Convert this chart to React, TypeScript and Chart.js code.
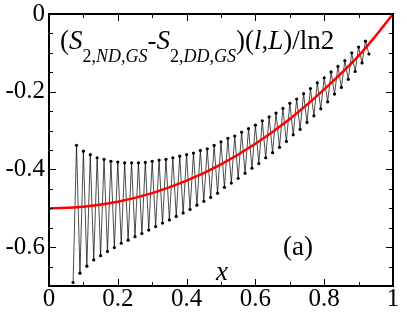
import React, { useEffect, useRef } from "react";
import { Chart, registerables } from "chart.js";

Chart.register(...registerables);

// chain length L; sites l = 7..93, x = l / L
const chainLength = 100;
const firstOddSite = 7;
const oddSiteValues = [
  -0.691, -0.667, -0.649, -0.633, -0.622, -0.611, -0.601, -0.59, -0.582, -0.573,
  -0.565, -0.556, -0.547, -0.538, -0.53, -0.521, -0.512, -0.503, -0.492, -0.482,
  -0.472, -0.461, -0.446, -0.435, -0.423, -0.41, -0.397, -0.385, -0.37, -0.357,
  -0.343, -0.328, -0.311, -0.297, -0.279, -0.262, -0.244, -0.226, -0.206, -0.189,
  -0.168, -0.148, -0.126, -0.103,
];
const firstEvenSite = 8;
const evenSiteValues = [
  -0.338, -0.353, -0.362, -0.37, -0.374, -0.379, -0.381, -0.383, -0.383,
  -0.383, -0.382, -0.379, -0.376, -0.374, -0.37, -0.366, -0.362, -0.358, -0.351,
  -0.347, -0.338, -0.329, -0.32, -0.314, -0.304, -0.295, -0.286, -0.275, -0.265,
  -0.255, -0.243, -0.23, -0.219, -0.205, -0.192, -0.177, -0.164, -0.149, -0.135, -0.12,
  -0.1, -0.085, -0.07,
];

// red reference curve
const curveX = [0, 0.1, 0.2, 0.3, 0.4, 0.5, 0.6, 0.7, 0.8, 0.9, 0.95, 1];
const curveY = [-0.5, -0.496, -0.483, -0.461, -0.429, -0.387, -0.334, -0.27, -0.194, -0.108, -0.056, 0];

const xTickValues = [0, 0.2, 0.4, 0.6, 0.8, 1];
const xTickLabels = ["0", "0.2", "0.4", "0.6", "0.8", "1"];
const xMinorTicks = [0.1, 0.3, 0.5, 0.7, 0.9];
const yTickValues = [0, -0.2, -0.4, -0.6];
const yTickLabels = ["0", "-0.2", "-0.4", "-0.6"];
const yMinorTicks = [-0.05, -0.1, -0.15, -0.25, -0.3, -0.35, -0.45, -0.5, -0.55, -0.65];

const SERIF = "'Liberation Serif', 'Times New Roman', serif";

const labelParts = [
  { t: "(", sub: false, it: false },
  { t: "S", sub: false, it: true },
  { t: "2,", sub: true, it: false },
  { t: "ND,GS", sub: true, it: true },
  { t: "-", sub: false, it: false },
  { t: "S", sub: false, it: true },
  { t: "2,", sub: true, it: false },
  { t: "DD,GS", sub: true, it: true },
  { t: ")(", sub: false, it: false },
  { t: "l", sub: false, it: true },
  { t: ",", sub: false, it: false },
  { t: "L", sub: false, it: true },
  { t: ")/ln2", sub: false, it: false },
];
const panelLabel = "(a)";
const axisLabel = "x";

function buildZigzag() {
  const pts: { x: number; y: number }[] = [];
  oddSiteValues.forEach((v, i) => pts.push({ x: (firstOddSite + 2 * i) / chainLength, y: v }));
  evenSiteValues.forEach((v, i) => pts.push({ x: (firstEvenSite + 2 * i) / chainLength, y: v }));
  pts.sort((a, b) => a.x - b.x);
  return pts;
}

const decorPlugin = {
  id: "decor",
  afterDraw(chart: any) {
    const { ctx, chartArea: a, scales } = chart;
    const xs = scales.x;
    const ys = scales.y;
    ctx.save();
    ctx.strokeStyle = "#000";
    ctx.lineWidth = 1;
    ctx.beginPath();
    const xTick = (v: number, len: number) => {
      const p = Math.round(xs.getPixelForValue(v)) + 0.5;
      ctx.moveTo(p, a.bottom);
      ctx.lineTo(p, a.bottom - len);
      ctx.moveTo(p, a.top);
      ctx.lineTo(p, a.top + len);
    };
    const yTick = (v: number, len: number) => {
      const p = Math.round(ys.getPixelForValue(v)) + 0.5;
      ctx.moveTo(a.left, p);
      ctx.lineTo(a.left + len, p);
      ctx.moveTo(a.right, p);
      ctx.lineTo(a.right - len, p);
    };
    xTickValues.forEach((v) => xTick(v, 7));
    xMinorTicks.forEach((v) => xTick(v, 4));
    yTickValues.forEach((v) => yTick(v, 7));
    yMinorTicks.forEach((v) => yTick(v, 4));
    ctx.stroke();
    ctx.lineWidth = 2;
    ctx.strokeRect(a.left, a.top, a.right - a.left, a.bottom - a.top);

    // formula label
    ctx.fillStyle = "#000";
    ctx.textBaseline = "alphabetic";
    ctx.textAlign = "left";
    let x = a.left + 11;
    const base = a.top + 35;
    labelParts.forEach((p) => {
      const size = p.sub ? 18 : 27;
      ctx.font = `${p.it ? "italic " : ""}${size}px ${SERIF}`;
      ctx.fillText(p.t, x, p.sub ? base + 13 : base);
      x += ctx.measureText(p.t).width;
    });

    ctx.font = `27px ${SERIF}`;
    ctx.fillText(panelLabel, a.left + 234, a.top + 241);

    ctx.font = `italic 27px ${SERIF}`;
    ctx.textAlign = "center";
    ctx.fillText(axisLabel, xs.getPixelForValue(0.5) + 1, a.bottom - 6);
    ctx.restore();
  },
};

export default function App() {
  const canvasRef = useRef<HTMLCanvasElement | null>(null);

  useEffect(() => {
    if (!canvasRef.current) return;
    const chart = new Chart(canvasRef.current, {
      type: "line",
      data: {
        datasets: [
          {
            data: curveX.map((x, i) => ({ x, y: curveY[i] })),
            borderColor: "#ff0000",
            borderWidth: 2.5,
            pointRadius: 0,
            cubicInterpolationMode: "monotone",
            fill: false,
          },
          {
            data: buildZigzag(),
            borderColor: "rgba(0,0,0,0.7)",
            borderWidth: 1,
            pointRadius: 1.6,
            pointBackgroundColor: "#000",
            pointBorderWidth: 0,
            tension: 0,
            fill: false,
          },
        ],
      },
      options: {
        animation: false,
        responsive: true,
        maintainAspectRatio: false,
        layout: { padding: { left: 0, right: 14, top: 13, bottom: 0 } },
        plugins: { legend: { display: false }, tooltip: { enabled: false } },
        scales: {
          x: {
            type: "linear",
            min: 0,
            max: 1,
            grid: { display: false, drawTicks: false },
            border: { display: false },
            afterBuildTicks: (s: any) => {
              s.ticks = xTickValues.map((v) => ({ value: v }));
            },
            afterFit: (s: any) => {
              s.height = 29;
            },
            ticks: {
              autoSkip: false,
              maxRotation: 0,
              padding: 3,
              color: "#000",
              font: { family: SERIF, size: 25, lineHeight: 0.8 },
              callback: (v: any) => xTickLabels[xTickValues.indexOf(Number(v))] ?? "",
            },
          },
          y: {
            type: "linear",
            min: -0.7,
            max: 0,
            grid: { display: false, drawTicks: false },
            border: { display: false },
            afterBuildTicks: (s: any) => {
              s.ticks = yTickValues.map((v) => ({ value: v }));
            },
            afterFit: (s: any) => {
              s.width = 49;
            },
            ticks: {
              autoSkip: false,
              padding: 4,
              color: "#000",
              font: { family: SERIF, size: 25, lineHeight: 0.8 },
              callback: (v: any) => yTickLabels[yTickValues.indexOf(Number(v))] ?? "",
            },
          },
        },
      },
      plugins: [decorPlugin],
    });
    return () => chart.destroy();
  }, []);

  return (
    <div style={{ position: "fixed", left: 0, top: 0, width: 407, height: 315, background: "#fff" }}>
      <canvas ref={canvasRef} />
    </div>
  );
}
